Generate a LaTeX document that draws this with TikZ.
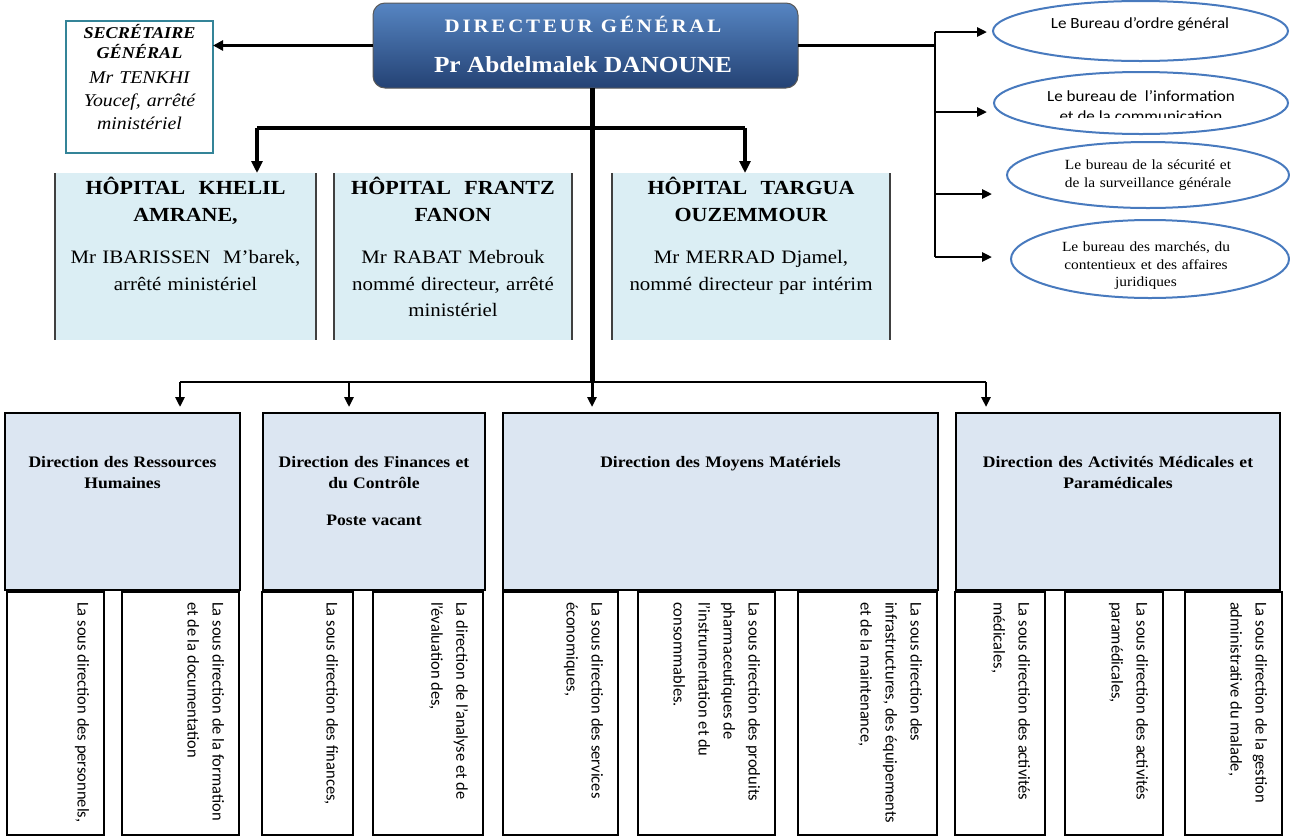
\documentclass[tikz,border=0pt]{standalone}
\usepackage{fontspec}
\setmainfont{Liberation Serif}[FakeStretch=1.1]
\newfontfamily\carl{Carlito}[FakeStretch=1.1]
\newfontfamily\carlsub{Carlito}
\newfontfamily\dgfont{Liberation Serif}[FakeStretch=1.1,LetterSpace=15]
\usetikzlibrary{arrows.meta,shapes.geometric}
\definecolor{dgtop}{RGB}{86,133,194}
\definecolor{dgbot}{RGB}{36,66,116}
\definecolor{sgcol}{RGB}{52,132,152}
\definecolor{hospfill}{RGB}{219,238,244}
\definecolor{dirfill}{RGB}{220,230,242}
\definecolor{ellcol}{RGB}{72,122,190}
\begin{document}
\begin{tikzpicture}[x=1pt,y=-1pt,
  every node/.style={inner sep=0pt,outer sep=0pt},
  sgbox/.style={draw=sgcol,line width=2.5pt,fill=white,minimum width=147pt,minimum height=132pt},
  dgbox/.style={rounded corners=12pt,draw=black!65,line width=1pt,top color=dgtop,bottom color=dgbot,minimum width=425pt,minimum height=85pt},
  hospbox/.style={fill=hospfill,minimum height=167pt},
  hospline/.style={draw=black!75,line width=2pt},
  hosptitle/.style={font=\bfseries\fontsize{20}{27}\selectfont,align=center,anchor=base},
  hospbody/.style={font=\fontsize{19}{26.5}\selectfont,align=center,anchor=base},
  ellbox/.style={ellipse,draw=ellcol,line width=2pt},
  elltxt/.style={font=\carl\fontsize{15.5}{19}\selectfont,anchor=base},
  ellser/.style={font=\fontsize{14}{17.5}\selectfont,align=center,anchor=base,text width=220pt},
  dirbox/.style={draw=black,line width=2.5pt,fill=dirfill,minimum height=177pt},
  dirtxt/.style={font=\bfseries\fontsize{16}{21}\selectfont,align=center,anchor=base},
  subbox/.style={draw=black,line width=2pt,fill=white,minimum height=243pt},
  subtxt/.style={rotate=-90,anchor=north west,align=left,font=\carlsub\fontsize{16.5}{25}\selectfont},
  arrsg/.style={line width=3pt,-{Triangle[length=10pt,width=10pt]}},
  line2/.style={line width=2.5pt},
  arrr/.style={line width=2.5pt,-{Triangle[length=10pt,width=9pt]}},
  hbar/.style={line width=4pt},
  harr/.style={line width=4pt,-{Triangle[length=12pt,width=11pt]}},
  trunk/.style={line width=5pt},
  bbar/.style={line width=2.5pt},
  barr/.style={line width=2.5pt,-{Triangle[length=10pt,width=9pt]},shorten >=6pt}
]
\useasboundingbox (0,0) rectangle (1290,836);

% Secretaire general
\node[sgbox] (sg) at (139.5,87) {};
\node[font=\bfseries\itshape\fontsize{16.5}{20}\selectfont,text width=140pt,align=center,anchor=base] (sgt) at (139.5,38) {SECRÉTAIRE\\GÉNÉRAL};
\node[font=\itshape\fontsize{18}{23}\selectfont,text width=140pt,align=center,anchor=base] (sgn) at (139.5,83) {Mr TENKHI\\Youcef, arrêté\\ministériel};

% Directeur general
\node[dgbox] (dg) at (585.5,45.5) {};
\node[font=\dgfont\bfseries\fontsize{19}{24}\selectfont,text=white,anchor=base] (dgt) at (583,32.5) {DIRECTEUR GÉNÉRAL};
\node[font=\bfseries\fontsize{23}{28}\selectfont,text=white,anchor=base] (dgn) at (583,72.5) {Pr Abdelmalek DANOUNE};

% Hospitals
\node[hospbox,minimum width=261pt] (h1) at (185.5,256.5) {};
\node[hospbox,minimum width=238pt] (h2) at (453,256.5) {};
\node[hospbox,minimum width=278pt] (h3) at (751,256.5) {};
\foreach \h in {h1,h2,h3}{
  \draw[hospline] (\h.north west) -- (\h.south west);
  \draw[hospline] (\h.north east) -- (\h.south east);
}
\node[hosptitle,text width=255pt] (h1t) at (185.5,194.5) {HÔPITAL~~KHELIL\\AMRANE,};
\node[hospbody,text width=255pt] (h1b) at (185.5,263.5) {Mr IBARISSEN~~M’barek,\\arrêté ministériel};
\node[hosptitle,text width=232pt] (h2t) at (453,194.5) {HÔPITAL~~FRANTZ\\FANON};
\node[hospbody,text width=232pt] (h2b) at (453,263.5) {Mr RABAT Mebrouk\\nommé directeur, arrêté\\ministériel};
\node[hosptitle,text width=272pt] (h3t) at (751,194.5) {HÔPITAL~~TARGUA\\OUZEMMOUR};
\node[hospbody,text width=272pt] (h3b) at (751,263.5) {Mr MERRAD Djamel,\\nommé directeur par intérim};

% Bureaux (ellipses)
\node[ellbox,minimum width=295pt,minimum height=60pt] (e1) at (1140.5,31) {};
\node[ellbox,minimum width=294pt,minimum height=62pt] (e2) at (1141,103) {};
\node[ellbox,minimum width=282pt,minimum height=66pt] (e3) at (1148,175) {};
\node[ellbox,minimum width=278pt,minimum height=78pt] (e4) at (1150,259) {};
\node[elltxt] (e1t) at (1140,28) {Le Bureau d’ordre général};
\node[elltxt] (e2t) at (1141,101) {Le bureau de~~l’information};
\begin{scope}
  \clip (990,60) rectangle (1290,117.5);
  \node[elltxt] (e2u) at (1141,121.5) {et de la communication};
\end{scope}
\node[ellser] (e3t) at (1148,169.5) {Le bureau de la sécurité et\\de la surveillance générale};
\node[ellser] (e4t) at (1146,251.5) {Le bureau des marchés, du\\contentieux et des affaires\\juridiques};

% Directions
\node[dirbox,minimum width=235pt] (d1) at (122.5,501.5) {};
\node[dirbox,minimum width=222pt] (d2) at (374,501.5) {};
\node[dirbox,minimum width=435pt] (d3) at (720.5,501.5) {};
\node[dirbox,minimum width=324pt] (d4) at (1118,501.5) {};
\node[dirtxt,text width=225pt] (d1t) at (122.5,467) {Direction des Ressources\\Humaines};
\node[dirtxt,text width=212pt] (d2t) at (374,467) {Direction des Finances et\\du Contrôle\\[16pt]Poste vacant};
\node[dirtxt,text width=425pt] (d3t) at (720.5,467) {Direction des Moyens Matériels};
\node[dirtxt,text width=314pt] (d4t) at (1118,467) {Direction des Activités Médicales et\\Paramédicales};

% Sous-directions
\node[subbox,minimum width=97pt] (s1) at (55.5,713.5) {};
\node[subbox,minimum width=117pt] (s2) at (180.5,713.5) {};
\node[subbox,minimum width=91pt] (s3) at (307.5,713.5) {};
\node[subbox,minimum width=110pt] (s4) at (428,713.5) {};
\node[subbox,minimum width=115pt] (s5) at (560.5,713.5) {};
\node[subbox,minimum width=137pt] (s6) at (706.5,713.5) {};
\node[subbox,minimum width=139pt] (s7) at (867.5,713.5) {};
\node[subbox,minimum width=90pt] (s8) at (1000,713.5) {};
\node[subbox,minimum width=98pt] (s9) at (1114,713.5) {};
\node[subbox,minimum width=97pt] (s10) at (1233.5,713.5) {};
\node[subtxt] (s1t) at ([xshift=-15pt,yshift=-10pt]s1.north east) {La sous direction des personnels,};
\node[subtxt] (s2t) at ([xshift=-15pt,yshift=-10pt]s2.north east) {La sous direction de la formation\\et de la documentation};
\node[subtxt] (s3t) at ([xshift=-15pt,yshift=-10pt]s3.north east) {La sous direction des finances,};
\node[subtxt] (s4t) at ([xshift=-15pt,yshift=-10pt]s4.north east) {La direction de l’analyse et de\\l’évaluation des,};
\node[subtxt] (s5t) at ([xshift=-15pt,yshift=-10pt]s5.north east) {La sous direction des services\\économiques,};
\node[subtxt] (s6t) at ([xshift=-15pt,yshift=-10pt]s6.north east) {La sous direction des produits\\pharmaceutiques de\\l’instrumentation et du\\consommables.};
\node[subtxt] (s7t) at ([xshift=-15pt,yshift=-10pt]s7.north east) {La sous direction des\\infrastructures, des équipements\\et de la maintenance,};
\node[subtxt] (s8t) at ([xshift=-15pt,yshift=-10pt]s8.north east) {La sous direction des activités\\médicales,};
\node[subtxt] (s9t) at ([xshift=-15pt,yshift=-10pt]s9.north east) {La sous direction des activités\\paramédicales,};
\node[subtxt] (s10t) at ([xshift=-15pt,yshift=-10pt]s10.north east) {La sous direction de la gestion\\administrative du malade,};

% Connectors
\draw[arrsg] (dg.west) -- (dg.west -| sg.east);
\coordinate (rj) at (935,45.5);
\coordinate (b1) at (935,32);
\coordinate (b2) at (935,112);
\coordinate (b3) at (935,194);
\coordinate (b4) at (935,257);
\draw[line2] (dg.east) -- (rj);
\draw[line2] (b1) -- (b4);
\draw[arrr,shorten >=6pt] (b1) -- (b1 -| e1.west);
\draw[arrr,shorten >=7pt] (b2) -- (b2 -| e2.west);
\draw[arrr,shorten >=15pt] (b3) -- (b3 -| e3.west);
\draw[arrr,shorten >=19pt] (b4) -- (b4 -| e4.west);

\coordinate (tt) at (592,88);
\coordinate (hl) at (257,128);
\coordinate (hm) at (592,128);
\coordinate (hr) at (745,128);
\coordinate (bl) at (180,382);
\coordinate (bm) at (349,382);
\coordinate (bc) at (592,382);
\coordinate (br) at (986,382);
\draw[trunk] (tt) -- (bc);
\draw[hbar] (hl) -- (hr);
\draw[harr] (hl) -- (hl |- h1.north);
\draw[harr] (hr) -- (hr |- h3.north);
\draw[bbar] (bl) -- (br);
\draw[barr] (bl) -- (bl |- d1.north);
\draw[barr] (bm) -- (bm |- d2.north);
\draw[barr,line width=3pt] (bc) -- (bc |- d3.north);
\draw[barr] (br) -- (br |- d4.north);
\end{tikzpicture}
\end{document}
